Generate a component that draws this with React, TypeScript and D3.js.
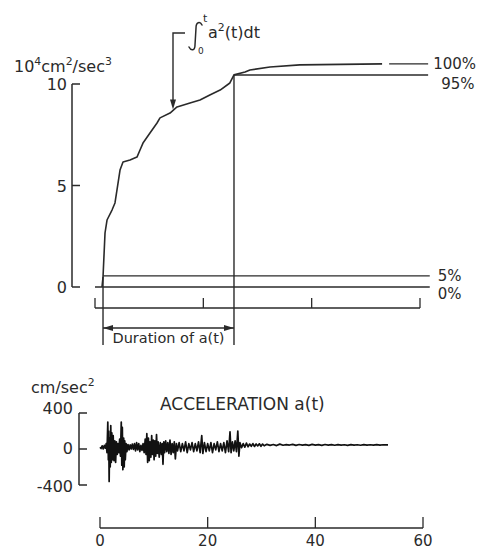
import React, { useEffect } from "react";
import * as d3 from "d3";

// cumulative energy, 10^4 cm^2/sec^3
const energyTimes = [
  1.29, 1.48, 1.85, 2.22, 3.14, 3.69, 4.06, 4.62, 5.17, 6.46, 7.75, 8.31, 8.86,
  10.15, 11.45, 12.0, 13.85, 15.14, 17.54, 19.38, 21.2, 23.1, 24.9, 25.66, 27.7,
  28.6, 32.3, 37.8, 53.0,
];
const energyValues = [
  0, 0.49, 2.66, 3.3, 3.79, 4.14, 4.78, 5.76, 6.16, 6.26, 6.4, 6.75, 7.09, 7.59,
  8.08, 8.33, 8.57, 8.87, 9.06, 9.21, 9.46, 9.7, 10.05, 10.45, 10.59, 10.69,
  10.84, 10.94, 10.99,
];
const totalEnergy = 10.99;
const percentLevels = [100, 95, 5, 0];
const durationStart = 1.48;
const durationEnd = 25.66;

const timeTicks = [0, 20, 40, 60];
const energyTicks = [0, 5, 10];
const accelTicks = [-400, 0, 400];

// acceleration record [sec, cm/sec^2]
const accelTimes = [
  0, 0.2, 0.4, 0.6, 0.8, 1.0, 1.15, 1.3, 1.45, 1.55, 1.62, 1.7, 1.8, 1.9, 2.0,
  2.1, 2.2, 2.3, 2.45, 2.6, 2.75, 2.9, 3.05, 3.2, 3.35, 3.5, 3.65, 3.8, 3.95,
  4.05, 4.15, 4.25, 4.4, 4.5, 4.6, 4.7, 4.85, 5.0, 5.2, 5.4, 5.6, 5.8, 6.0, 6.2,
  6.4, 6.6, 6.8, 7.0, 7.2, 7.4, 7.6, 7.8, 8.0, 8.2, 8.4, 8.55, 8.7, 8.85, 9.0,
  9.15, 9.3, 9.45, 9.6, 9.75, 9.9, 10.05, 10.2, 10.35, 10.5, 10.65, 10.8, 11.0,
  11.2, 11.4, 11.55, 11.7, 11.85, 12.0, 12.2, 12.4, 12.6, 12.8, 13.0, 13.2, 13.4,
  13.6, 13.8, 14.0, 14.2, 14.4, 14.7, 15.0, 15.3, 15.6, 15.9, 16.2, 16.5, 16.8,
  17.1, 17.4, 17.7, 18.0, 18.3, 18.6, 18.9, 19.1, 19.4, 19.7, 20.0, 20.3, 20.6,
  20.9, 21.2, 21.5, 21.8, 22.1, 22.4, 22.7, 23.0, 23.3, 23.6, 23.9, 24.15, 24.35,
  24.6, 24.85, 25.1, 25.35, 25.6, 25.8, 26.0, 26.3, 26.6, 26.9, 27.2, 27.5, 27.8,
  28.1, 28.4, 28.7, 29.0, 29.3, 29.6, 29.9, 30.2, 30.5, 31.0, 31.6, 32.2, 32.8,
  33.4, 34.0, 34.6, 35.2, 35.8, 36.4, 37.0, 37.6, 38.2, 38.8, 39.4, 40.0, 40.6,
  41.2, 41.8, 42.4, 43.0, 43.6, 44.2, 44.8, 45.4, 46.0, 46.6, 47.2, 47.8, 48.4,
  49.0, 49.6, 50.2, 50.8, 51.4, 52.0, 52.6, 53.2, 53.5,
];
const accelValues = [
  20, 5, 35, 0, 40, 10, 60, -40, 300, -120, 200, -360, 120, -200, 260, -150, 180,
  -120, 150, -130, 90, -150, 80, -60, 60, -40, 110, -80, 300, -180, 240, -230,
  120, -200, 90, -120, 60, -30, 50, -10, 45, 0, 55, -5, 60, -20, 70, -10, 60,
  -30, 40, -15, 60, -40, 110, -60, 170, -150, 120, -130, 80, -90, 150, -60, 100,
  -120, 90, -80, 160, -50, 80, -90, 70, -60, 60, -170, 80, -40, 90, -30, 70, -50,
  100, -60, 60, -40, 80, -110, 60, -20, 70, -30, 60, -20, 80, -40, 60, -10, 70,
  -30, 60, -20, 80, -40, 150, -50, 70, -30, 60, -20, 70, -40, 60, -10, 80, -30,
  60, -20, 70, -40, 90, -30, 190, -40, 80, -20, 90, -30, 200, -80, 70, 15, 60,
  20, 65, 25, 55, 30, 60, 28, 56, 34, 58, 30, 55, 36, 52, 40, 50, 38, 54, 42, 48,
  44, 52, 40, 50, 44, 49, 41, 51, 43, 48, 40, 50, 44, 49, 42, 48, 44, 47, 41, 49,
  43, 47, 42, 48, 43, 47, 44, 48, 43, 47, 45, 45,
];

export default function App() {
  useEffect(() => {
    draw();
  }, []);

  let draw = () => {
    d3.select("#energy_chart").select("svg").remove();

    let width = 484;
    let height = 551;
    let ink = "#2a2a2a";
    let font = "DejaVu Sans";

    let svg = d3
      .select("#energy_chart")
      .append("svg")
      .attr("width", width)
      .attr("height", height)
      .style("display", "block")
      .style("background", "#fff")
      .attr("font-family", font)
      .attr("fill", ink);

    // text with raised pieces, e.g. ["10", "4", "cm", "2"] -> every 2nd piece up
    let supText = (x, y, size, parts) => {
      let t = svg.append("text").attr("x", x).attr("y", y).attr("font-size", size);
      parts.forEach((p, i) => {
        let s = t.append("tspan").text(p);
        if (i % 2 === 1) {
          s.attr("font-size", size * 0.68).attr("dy", -size * 0.45);
        } else if (i > 0) {
          s.attr("dy", size * 0.45);
        }
      });
      return t;
    };

    // ---- upper panel: integral of a^2
    let xTop = d3.scaleLinear().domain([0, 60]).range([95, 420]);
    let yTop = d3.scaleLinear().domain([0, 10]).range([287, 84]);

    svg
      .append("line")
      .attr("x1", 72)
      .attr("x2", 72)
      .attr("y1", yTop(10))
      .attr("y2", yTop(0))
      .attr("stroke", ink)
      .attr("stroke-width", 1.5);

    svg
      .selectAll(".eTick")
      .data(energyTicks)
      .enter()
      .append("line")
      .attr("x1", 72)
      .attr("x2", 80)
      .attr("y1", (d) => yTop(d))
      .attr("y2", (d) => yTop(d))
      .attr("stroke", ink)
      .attr("stroke-width", 1.5);

    svg
      .selectAll(".eLabel")
      .data(energyTicks)
      .enter()
      .append("text")
      .attr("x", 67)
      .attr("y", (d) => yTop(d) + 6)
      .attr("text-anchor", "end")
      .attr("font-size", 16)
      .text((d) => d);

    supText(14, 72, 16, ["10", "4", "cm", "2", "/sec", "3"]);

    // time axis under the upper panel (no labels)
    let axisTopY = 308;
    svg
      .append("line")
      .attr("x1", xTop(0))
      .attr("x2", xTop(60))
      .attr("y1", axisTopY)
      .attr("y2", axisTopY)
      .attr("stroke", ink)
      .attr("stroke-width", 1.5);
    svg
      .selectAll(".tTickTop")
      .data(timeTicks)
      .enter()
      .append("line")
      .attr("x1", (d) => xTop(d))
      .attr("x2", (d) => xTop(d))
      .attr("y1", axisTopY)
      .attr("y2", axisTopY - 10)
      .attr("stroke", ink)
      .attr("stroke-width", 1.3);

    // percent lines
    let lineEnd = 61.8;
    let levelStart = (p) =>
      p === 0 ? 0 : p === 5 ? durationStart : p === 95 ? durationEnd : 54.3;
    let levelEnd = (p) => (p >= 95 ? 61.5 : lineEnd);

    svg
      .selectAll(".level")
      .data(percentLevels)
      .enter()
      .append("line")
      .attr("x1", (d) => xTop(levelStart(d)))
      .attr("x2", (d) => xTop(levelEnd(d)))
      .attr("y1", (d) => yTop((totalEnergy * d) / 100))
      .attr("y2", (d) => yTop((totalEnergy * d) / 100))
      .attr("stroke", ink)
      .attr("stroke-width", 1.4);

    let labelDy = { 100: 0, 95: 9, 5: 0, 0: 7 };
    let labelDx = { 100: 0, 95: 8, 5: 3, 0: 3 };
    svg
      .selectAll(".levelLabel")
      .data(percentLevels)
      .enter()
      .append("text")
      .attr("x", (d) => xTop(levelEnd(d)) + 5 + labelDx[d])
      .attr("y", (d) => yTop((totalEnergy * d) / 100) + 5 + labelDy[d])
      .attr("font-size", 15)
      .text((d) => d + "%");

    // cumulative curve
    let energy = energyTimes.map((t, i) => [t, energyValues[i]]);
    svg
      .append("path")
      .datum(energy)
      .attr("d", d3.line().x((d) => xTop(d[0])).y((d) => yTop(d[1])))
      .attr("fill", "none")
      .attr("stroke", ink)
      .attr("stroke-width", 1.6)
      .attr("stroke-linejoin", "round");

    // duration bracket
    let bracketBottom = 345;
    let arrowY = 328;
    [durationStart, durationEnd].forEach((t, i) => {
      svg
        .append("line")
        .attr("x1", xTop(t))
        .attr("x2", xTop(t))
        .attr("y1", i === 0 ? yTop(energyValues[1]) : yTop(energyValues[23]))
        .attr("y2", bracketBottom)
        .attr("stroke", ink)
        .attr("stroke-width", 1.4);
    });
    svg
      .append("line")
      .attr("x1", xTop(durationStart))
      .attr("x2", xTop(durationEnd))
      .attr("y1", arrowY)
      .attr("y2", arrowY)
      .attr("stroke", ink)
      .attr("stroke-width", 1.4);
    let xa = xTop(durationStart);
    let xb = xTop(durationEnd);
    svg
      .append("path")
      .attr("d", `M${xa},${arrowY} l10,-3 l0,6 z M${xb},${arrowY} l-10,-3 l0,6 z`)
      .attr("fill", ink);
    svg
      .append("text")
      .attr("x", (xa + xb) / 2)
      .attr("y", 343)
      .attr("text-anchor", "middle")
      .attr("font-size", 14.5)
      .text("Duration of a(t)");

    // integral annotation with leader arrow
    let leadX = xTop(14.4);
    let leadTipY = yTop(8.6) - 3;
    svg
      .append("path")
      .attr("d", `M185,33 L${leadX},33 L${leadX},${leadTipY - 8}`)
      .attr("fill", "none")
      .attr("stroke", ink)
      .attr("stroke-width", 1.4);
    svg
      .append("path")
      .attr("d", `M${leadX},${leadTipY} l-3,-10 l6,0 z`)
      .attr("fill", ink);
    // hand-drawn integral sign
    svg
      .append("path")
      .attr("d", "M202,25 C200,21 196,22 196,28 L195,45 C195,51 191,51 189,47")
      .attr("fill", "none")
      .attr("stroke", ink)
      .attr("stroke-width", 1.5)
      .attr("stroke-linecap", "round");
    svg
      .append("text")
      .attr("x", 203)
      .attr("y", 22)
      .attr("font-size", 11)
      .text("t");
    svg
      .append("text")
      .attr("x", 198)
      .attr("y", 54)
      .attr("font-size", 9)
      .text("0");
    supText(208, 38, 16, ["a", "2", "(t)dt"]);

    // ---- lower panel: acceleration record
    let xBot = d3.scaleLinear().domain([0, 60]).range([100, 423]);
    let yBot = d3.scaleLinear().domain([-400, 400]).range([485, 413]);

    svg
      .append("line")
      .attr("x1", 79)
      .attr("x2", 79)
      .attr("y1", yBot(400))
      .attr("y2", yBot(-400))
      .attr("stroke", ink)
      .attr("stroke-width", 1.5);
    svg
      .selectAll(".aTick")
      .data(accelTicks)
      .enter()
      .append("line")
      .attr("x1", 79)
      .attr("x2", 87)
      .attr("y1", (d) => yBot(d))
      .attr("y2", (d) => yBot(d))
      .attr("stroke", ink)
      .attr("stroke-width", 1.5);
    svg
      .selectAll(".aLabel")
      .data(accelTicks)
      .enter()
      .append("text")
      .attr("x", 73)
      .attr("y", (d) => yBot(d) + (d === 400 ? 1 : d === 0 ? 5 : 7))
      .attr("text-anchor", "end")
      .attr("font-size", 16)
      .text((d) => d);

    supText(31, 393, 16, ["cm/sec", "2"]);
    svg
      .append("text")
      .attr("x", 160)
      .attr("y", 410)
      .attr("font-size", 17)
      .text("ACCELERATION  a(t)");

    let accel = accelTimes.map((t, i) => [t, accelValues[i]]);
    svg
      .append("path")
      .datum(accel)
      .attr("d", d3.line().x((d) => xBot(d[0])).y((d) => yBot(d[1])))
      .attr("fill", "none")
      .attr("stroke", "#111")
      .attr("stroke-width", 1.7)
      .attr("stroke-linejoin", "round");

    let axisBotY = 528;
    svg
      .append("line")
      .attr("x1", xBot(0))
      .attr("x2", xBot(60))
      .attr("y1", axisBotY)
      .attr("y2", axisBotY)
      .attr("stroke", ink)
      .attr("stroke-width", 1.5);
    svg
      .selectAll(".tTickBot")
      .data(timeTicks)
      .enter()
      .append("line")
      .attr("x1", (d) => xBot(d))
      .attr("x2", (d) => xBot(d))
      .attr("y1", axisBotY)
      .attr("y2", axisBotY - 11)
      .attr("stroke", ink)
      .attr("stroke-width", 1.3);
    svg
      .selectAll(".tLabelBot")
      .data(timeTicks)
      .enter()
      .append("text")
      .attr("x", (d) => xBot(d))
      .attr("y", 546)
      .attr("text-anchor", "middle")
      .attr("font-size", 15)
      .text((d) => d);
  };

  return (
    <div
      id="energy_chart"
      style={{ position: "absolute", left: 0, top: 0 }}
    ></div>
  );
}
